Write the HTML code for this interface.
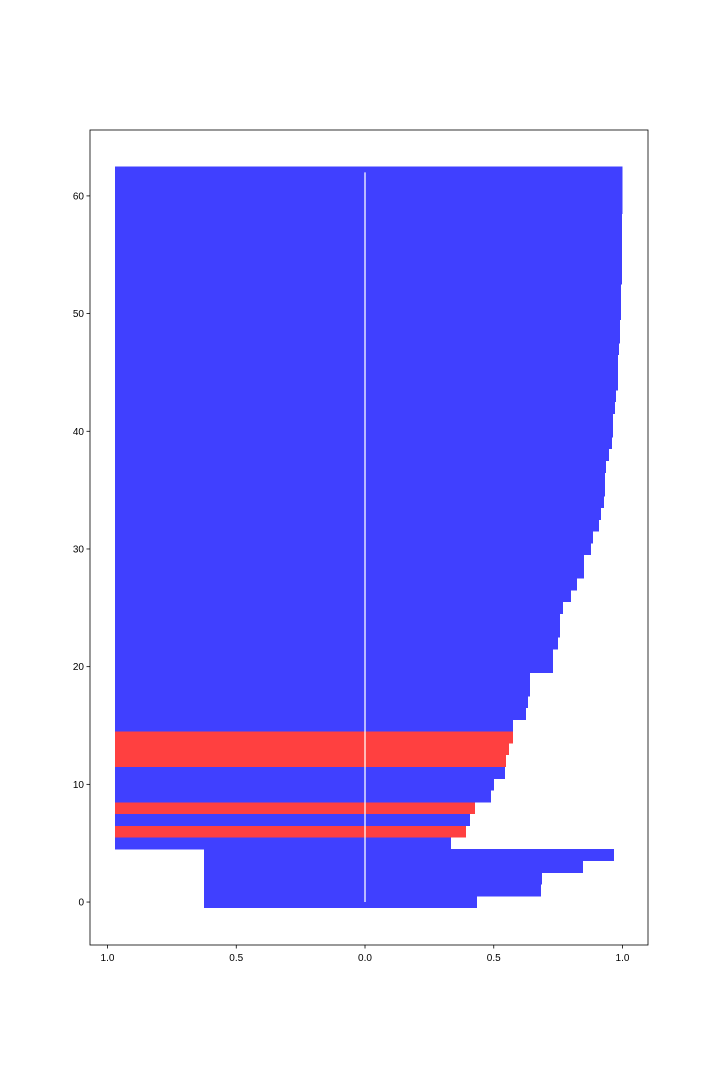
<!DOCTYPE html>
<html><head><meta charset="utf-8"><style>
html,body{margin:0;padding:0;background:#fff;}
svg text{font-family:"Liberation Sans","DejaVu Sans",sans-serif;font-size:10px;fill:#000;}
</style></head><body>
<svg id="chart" width="720" height="1080" xmlns="http://www.w3.org/2000/svg">
<rect x="0" y="0" width="720" height="1080" fill="#fff"/>
<g id="bars" shape-rendering="crispEdges"></g>
<g id="axes"></g>
</svg>
<script>
const rightValues=[0.435,0.683,0.687,0.847,0.967,0.334,0.392,0.408,0.427,0.489,0.501,0.544,0.548,0.559,0.575,0.575,0.625,0.633,0.641,0.641,0.730,0.730,0.750,0.757,0.757,0.769,0.800,0.823,0.850,0.850,0.878,0.885,0.909,0.917,0.928,0.932,0.932,0.936,0.948,0.959,0.963,0.963,0.971,0.975,0.983,0.983,0.983,0.986,0.990,0.990,0.994,0.994,0.994,0.998,0.998,0.998,0.998,0.998,0.998,1.0,1.0,1.0,1.0];
const leftValues=[0.625,0.625,0.625,0.625,0.625,0.971,0.971,0.971,0.971,0.971,0.971,0.971,0.971,0.971,0.971,0.971,0.971,0.971,0.971,0.971,0.971,0.971,0.971,0.971,0.971,0.971,0.971,0.971,0.971,0.971,0.971,0.971,0.971,0.971,0.971,0.971,0.971,0.971,0.971,0.971,0.971,0.971,0.971,0.971,0.971,0.971,0.971,0.971,0.971,0.971,0.971,0.971,0.971,0.971,0.971,0.971,0.971,0.971,0.971,0.971,0.971,0.971,0.971];
const redIndices=[6,8,12,13,14];
const xTickValues=[-1,-0.5,0,0.5,1];
const xTickLabels=["1.0","0.5","0.0","0.5","1.0"];
const yTickValues=[0,10,20,30,40,50,60];

const NS="http://www.w3.org/2000/svg";
const L=90,R=648,T=130,B=945;
const xMin=-1.068,xMax=1.099,yMin=-3.65,yMax=65.6;
const sx=v=>L+(v-xMin)/(xMax-xMin)*(R-L);
const sy=v=>B-(v-yMin)/(yMax-yMin)*(B-T);
function mk(tag,attrs,parent){const e=document.createElementNS(NS,tag);for(const k in attrs)e.setAttribute(k,attrs[k]);parent.appendChild(e);return e;}
const bars=document.getElementById('bars'),axes=document.getElementById('axes');
rightValues.forEach((v,i)=>{
  const x0=sx(-leftValues[i]),x1=sx(v),y0=sy(i+0.5),y1=sy(i-0.5);
  const r=mk('rect',{x:x0,y:y0,width:x1-x0,height:y1-y0+0.3,fill:redIndices.includes(i)?'#ff4040':'#4040ff'},bars);
  
  
});
const zl=mk('line',{x1:sx(0),x2:sx(0),y1:sy(0),y2:sy(62),stroke:'#fff','stroke-width':1.5,'stroke-opacity':0.85,'shape-rendering':'auto'},bars);


const fr=mk('rect',{x:L,y:T,width:R-L,height:B-T,fill:'none',stroke:'#000','stroke-width':0.8},axes);


xTickValues.forEach((v,i)=>{
  const x=sx(v);
  const t=mk('line',{x1:x,x2:x,y1:B,y2:B+3.5,stroke:'#000','stroke-width':0.8},axes);
  
  
  const tx=mk('text',{x:x,y:B+16,'text-anchor':'middle'},axes);
  tx.textContent=xTickLabels[i];
  
  
});
yTickValues.forEach(v=>{
  const y=sy(v);
  const t=mk('line',{x1:L-3.5,x2:L,y1:y,y2:y,stroke:'#000','stroke-width':0.8},axes);
  
  
  const tx=mk('text',{x:L-6,y:y+3.5,'text-anchor':'end'},axes);
  tx.textContent=String(v);
  
  
});
</script>
</body></html>
